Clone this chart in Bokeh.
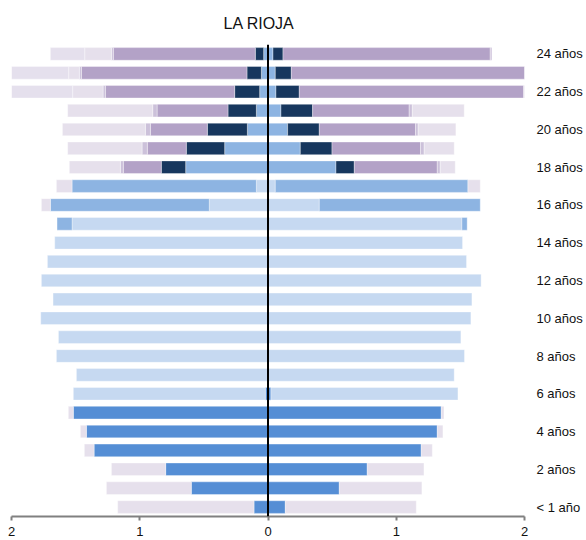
import numpy as np
from bokeh.plotting import figure
from bokeh.models import ColumnDataSource, Span, FixedTicker, Range1d
from bokeh.embed import file_html
from bokeh.resources import INLINE

# Age rows: 0 (< 1 año) ... 24 años
edad = list(range(25))
etiquetas_edad = {0: "< 1 año", 2: "2 años", 4: "4 años", 6: "6 años", 8: "8 años",
                  10: "10 años", 12: "12 años", 14: "14 años", 16: "16 años",
                  18: "18 años", 20: "20 años", 22: "22 años", 24: "24 años"}
ticks_x = [-2, -1, 0, 1, 2]
etiquetas_x = {-2: "2", -1: "1", 0: "0", 1: "1", 2: "2"}

# Left side (stacked from the centre outwards), % of population
infantil_izq = [0.109, 0.598, 0.798, 1.356, 1.416, 1.518, 0.021] + [0] * 18
primaria_izq = [0] * 6 + [1.497, 1.494, 1.650, 1.634, 1.772, 1.676, 1.767, 1.720, 1.663, 1.528, 0.458, 0.091] + [0] * 7
eso_izq = [0] * 15 + [0.117, 1.239, 1.437, 0.642, 0.338, 0.161, 0.091, 0.065, 0.052, 0.034]
bach_izq = [0] * 18 + [0.190, 0.299, 0.312, 0.221, 0.195, 0.112, 0.065]
univ_izq = [0] * 18 + [0.296, 0.304, 0.444, 0.553, 1.008, 1.291, 1.107]
otros_izq = [0] * 18 + [0.023, 0.041, 0.039, 0.034, 0.018, 0.016, 0.015]
noest_izq = [1.063, 0.662, 0.423, 0.076, 0.047, 0.039] + [0] * 10 + [0.070, 0.122, 0.398, 0.580, 0.647, 0.663, 0.237, 0.083, 0.208]
noest2_izq = [0] * 22 + [0.497, 0.466, 0.268]

# Right side
infantil_der = [0.135, 0.556, 0.774, 1.195, 1.320, 1.351, 0.023] + [0] * 18
primaria_der = [0] * 6 + [1.458, 1.452, 1.532, 1.504, 1.582, 1.590, 1.662, 1.548, 1.517, 1.512, 0.400, 0.057] + [0] * 7
eso_der = [0] * 15 + [0.041, 1.255, 1.502, 0.530, 0.252, 0.153, 0.101, 0.062, 0.057, 0.039]
bach_der = [0] * 18 + [0.143, 0.247, 0.247, 0.247, 0.182, 0.125, 0.078]
univ_der = [0] * 18 + [0.647, 0.690, 0.750, 0.753, 1.748, 1.848, 1.616]
otros_der = [0] * 18 + [0.023, 0.029, 0.021, 0.024, 0.030, 0.020, 0.013]
noest_der = [1.021, 0.644, 0.442, 0.086, 0.044, 0.021] + [0] * 11 + [0.096, 0.117, 0.234, 0.294, 0.405, 0, 0, 0]
noest2_der = [0] * 25

colores = ["#558ed5", "#c6d9f1", "#8db4e2", "#17375e", "#b3a2c7", "#ccc1da", "#e6e0ec", "#e5e0ed"]

izquierda = [infantil_izq, primaria_izq, eso_izq, bach_izq, univ_izq, otros_izq, noest_izq, noest2_izq]
derecha = [infantil_der, primaria_der, eso_der, bach_der, univ_der, otros_der, noest_der, noest2_der]

ys, lefts, rights, cols = [], [], [], []
for signo, series in ((-1, izquierda), (1, derecha)):
    acum = np.zeros(len(edad))
    for vals, color in zip(series, colores):
        v = np.array(vals, dtype=float)
        fin = acum + v
        for i in range(len(edad)):
            if v[i] > 0:
                a, b = signo * acum[i], signo * fin[i]
                ys.append(edad[i])
                lefts.append(min(a, b))
                rights.append(max(a, b))
                cols.append(color)
        acum = fin

src = ColumnDataSource(dict(y=ys, left=lefts, right=rights, color=cols))

p = figure(frame_width=513, frame_height=472, output_backend="svg", toolbar_location=None,
           x_range=Range1d(-2, 2), y_range=Range1d(-0.5, 24.5),
           y_axis_location="right",
           min_border_left=11, min_border_right=62, min_border_top=44, min_border_bottom=24)

p.hbar(y="y", left="left", right="right", height=0.67, fill_color="color",
       line_color="white", line_alpha=0.45, line_width=0.8, source=src)

p.add_layout(Span(location=0, dimension="height", line_color="black", line_width=2))

p.title.text = "LA RIOJA"
p.title.align = "left"
p.title.offset = 212
p.title.text_font = "Liberation Sans"
p.title.text_font_size = "16px"
p.title.text_font_style = "normal"
p.title.text_color = "#111111"
p.title.standoff = 25

p.xgrid.visible = False
p.ygrid.visible = False
p.outline_line_color = None

xa = p.xaxis[0]
xa.ticker = FixedTicker(ticks=ticks_x)
xa.major_label_overrides = etiquetas_x
xa.axis_line_color = "#808080"
xa.axis_line_width = 2
xa.major_tick_line_color = "#808080"
xa.major_tick_line_width = 2
xa.major_tick_in = 0
xa.major_tick_out = 4
xa.minor_tick_line_color = None
xa.major_label_standoff = 6
xa.major_label_text_font = "Liberation Sans"
xa.major_label_text_font_size = "13px"
xa.major_label_text_color = "#111111"

ya = p.yaxis[0]
ya.ticker = FixedTicker(ticks=sorted(etiquetas_edad.keys()))
ya.major_label_overrides = etiquetas_edad
ya.axis_line_color = None
ya.major_tick_line_color = None
ya.minor_tick_line_color = None
ya.major_tick_in = 0
ya.major_tick_out = 0
ya.major_label_standoff = 12
ya.major_label_text_font = "Liberation Sans"
ya.major_label_text_font_size = "13px"
ya.major_label_text_color = "#111111"

open("out.html", "w").write(file_html(p, INLINE))
